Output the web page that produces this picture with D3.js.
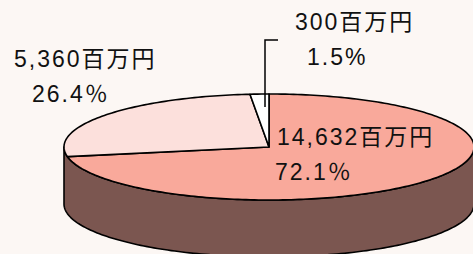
<!DOCTYPE html>
<html>
<head>
<meta charset="utf-8">
<script src="https://cdn.jsdelivr.net/npm/d3@7"></script>
<style>
  body { margin: 0; background: #fcf7f4; }
  svg text { font-family: "Liberation Sans", Arial, "Noto Sans CJK JP", sans-serif; font-size: 23px; fill: #111; letter-spacing: 2px; }
</style>
</head>
<body>
<div id="chart"></div>
<script>
const width = 473,
    height = 254;

// data
const names = ["A", "B", "C"];
const amounts = [14632, 5360, 300];
const amountLabels = ["14,632百万円", "5,360百万円", "300百万円"];
const pctLabels = ["72.1％", "26.4％", "1.5%"];
const colors = ["#f9a99b", "#fce0dc", "#ffffff"];

const cx = 269, cy = 147, rx = 205, ry = 53, depth = 57;
const sideColor = "#7b5650";

const svg = d3.select("#chart").append("svg")
    .attr("width", width)
    .attr("height", height);

const pie = d3.pie().sort(null).value(d => d)
    .startAngle(0).endAngle(2 * Math.PI);
const arcs = pie(amounts);

// projected point on the tilted ellipse (angle clockwise from top)
const pt = (a, dy = 0) => [cx + rx * Math.sin(a), cy - ry * Math.cos(a) + dy];
const line = d3.line();

function arcPoints(a0, a1, dy) {
    const n = Math.max(2, Math.ceil(Math.abs(a1 - a0) / 0.02));
    return d3.range(n + 1).map(i => pt(a0 + (a1 - a0) * i / n, dy));
}

// side wall (front half, from right extreme to left extreme)
const sideTop = arcPoints(Math.PI / 2, 3 * Math.PI / 2, 0);
const sideBottom = arcPoints(3 * Math.PI / 2, Math.PI / 2, depth);
svg.append("path")
    .attr("d", line(sideTop.concat(sideBottom)) + "Z")
    .attr("fill", sideColor)
    .attr("stroke", "#000")
    .attr("stroke-width", 1.6)
    .attr("stroke-linejoin", "round");

// top slices
svg.selectAll("path.slice")
    .data(arcs)
    .join("path")
    .attr("class", "slice")
    .attr("d", d => line([[cx, cy]].concat(arcPoints(d.startAngle, d.endAngle, 0))) + "Z")
    .attr("fill", (d, i) => colors[i])
    .attr("stroke", "#000")
    .attr("stroke-width", 1.6)
    .attr("stroke-linejoin", "round");

// leader line for the small slice
svg.append("path")
    .attr("d", "M278,40H265V107")
    .attr("fill", "none")
    .attr("stroke", "#000")
    .attr("stroke-width", 1.5);

// labels
const labelPos = [
    {x: 277, y1: 145, x2: 275, y2: 180},
    {x: 14, y1: 67, x2: 32, y2: 102},
    {x: 295, y1: 30, x2: 307, y2: 65}
];

labelPos.forEach((p, i) => {
    svg.append("text").attr("x", p.x).attr("y", p.y1).text(amountLabels[i]);
    svg.append("text").attr("x", p.x2).attr("y", p.y2).text(pctLabels[i]);
});
</script>
</body>
</html>
